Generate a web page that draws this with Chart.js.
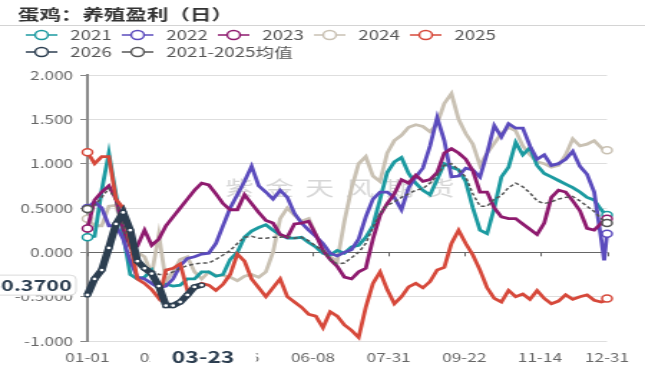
<!DOCTYPE html>
<html lang="zh">
<head>
<meta charset="UTF-8">
<title>蛋鸡：养殖盈利（日）</title>
<script src="https://cdn.jsdelivr.net/npm/chart.js"></script>
<style>
  html, body { margin: 0; padding: 0; background: #fff; }
  #chart { display: block; }
</style>
</head>
<body>
<!-- the source picture is stretched sideways, so the canvas is drawn narrow and widened by CSS -->
<canvas id="chart" width="450" height="369" style="width:645px;height:369px"></canvas>
<script>
// day of year (0 = 01-01), read every 5 days
const days = [0,5,10,15,20,25,30,35,40,45,50,55,60,65,70,75,80,85,90,95,
  100,105,110,115,120,125,130,135,140,145,150,155,160,165,170,175,180,185,190,195,
  200,205,210,215,220,225,230,235,240,245,250,255,260,265,270,275,280,285,290,295,
  300,305,310,315,320,325,330,335,340,345,350,355,360,362,364];

const s2021 = [0.17,0.18,0.7,1.12,0.65,0.2,-0.25,-0.3,-0.28,-0.2,-0.4,-0.36,-0.38,-0.37,-0.3,-0.3,-0.22,-0.22,-0.27,-0.25,
  -0.08,0.0,0.17,0.24,0.28,0.31,0.25,0.2,0.16,0.16,0.17,0.11,0.06,-0.01,-0.03,0.02,-0.01,0.06,0.08,0.17,
  0.3,0.6,0.9,1.02,1.07,0.89,0.78,0.7,0.65,0.82,1.0,0.96,0.93,0.8,0.5,0.25,0.21,0.5,0.85,0.96,
  1.24,1.1,1.18,0.98,0.89,0.85,0.81,0.77,0.73,0.68,0.62,0.59,0.48,0.44,0.42];

const s2022 = [0.5,0.57,0.5,0.3,0.3,0.15,-0.1,-0.28,-0.3,-0.35,-0.4,-0.38,-0.3,-0.15,-0.07,-0.05,-0.02,-0.01,0.1,0.3,
  0.5,0.65,0.8,0.97,0.75,0.68,0.6,0.7,0.62,0.44,0.33,0.25,0.18,0.1,-0.01,-0.04,0.0,0.03,0.15,0.4,
  0.6,0.68,0.68,0.62,0.48,0.73,0.85,0.95,1.2,1.52,1.26,0.85,0.86,0.95,0.93,0.85,1.12,1.43,1.3,1.45,
  1.4,1.4,1.2,1.05,1.1,0.98,1.0,1.05,1.14,0.97,0.88,0.68,0.14,-0.09,0.21];

const s2023 = [0.27,0.59,0.68,0.75,0.6,0.27,0.06,0.07,0.25,0.08,0.15,0.3,0.4,0.5,0.6,0.7,0.78,0.76,0.66,0.55,
  0.48,0.48,0.65,0.55,0.45,0.36,0.33,0.2,0.17,0.32,0.33,0.35,0.2,0.02,-0.08,-0.16,-0.28,-0.3,-0.22,-0.18,
  0.15,0.42,0.55,0.66,0.82,0.78,0.87,0.8,0.82,0.9,1.12,1.17,1.12,1.05,0.92,0.68,0.68,0.5,0.4,0.38,
  0.38,0.32,0.26,0.2,0.33,0.62,0.7,0.68,0.58,0.47,0.27,0.25,0.33,0.36,0.38];

const s2024 = [0.38,0.3,0.3,0.52,0.53,0.25,0.1,0.0,-0.05,-0.25,0.2,-0.33,-0.22,-0.08,-0.05,-0.22,-0.3,-0.22,-0.26,-0.26,
  -0.28,-0.32,-0.27,-0.25,-0.28,-0.22,0.0,0.38,0.5,0.42,0.35,0.38,0.2,0.05,-0.05,-0.1,0.35,0.72,1.0,1.08,
  0.86,0.8,1.12,1.26,1.32,1.41,1.44,1.42,1.36,1.45,1.68,1.79,1.5,1.34,1.22,0.98,1.12,1.23,1.34,1.41,
  1.37,1.2,1.1,1.02,1.0,0.96,0.98,1.1,1.28,1.2,1.22,1.26,1.18,1.15,1.15];

const s2025 = [1.13,1.0,1.08,1.08,0.6,0.5,0.1,-0.3,-0.35,-0.42,-0.52,-0.2,-0.18,-0.13,-0.43,-0.4,-0.35,-0.37,-0.43,-0.36,
  -0.25,-0.02,-0.1,-0.3,-0.4,-0.5,-0.4,-0.3,-0.5,-0.56,-0.62,-0.7,-0.72,-0.85,-0.67,-0.72,-0.82,-0.88,-0.96,-0.62,
  -0.35,-0.22,-0.42,-0.58,-0.5,-0.39,-0.35,-0.4,-0.33,-0.2,-0.17,0.1,0.25,0.1,-0.03,-0.2,-0.4,-0.52,-0.56,-0.43,
  -0.5,-0.47,-0.53,-0.43,-0.52,-0.58,-0.55,-0.48,-0.53,-0.5,-0.48,-0.54,-0.56,-0.55,-0.52];

// 2026 only runs to 03-23
const s2026 = [-0.48,-0.3,-0.2,0.05,0.32,0.45,0.25,-0.1,-0.18,-0.24,-0.38,-0.6,-0.6,-0.56,-0.48,-0.39,-0.37];

const sAvg = [0.49,0.53,0.62,0.72,0.58,0.3,0.05,-0.1,-0.15,-0.2,-0.25,-0.25,-0.22,-0.18,-0.15,-0.13,-0.12,-0.12,-0.08,-0.03,
  0.02,0.1,0.17,0.18,0.16,0.16,0.17,0.17,0.18,0.16,0.17,0.13,0.07,0.02,-0.08,-0.13,-0.12,-0.06,0.0,0.1,
  0.28,0.44,0.53,0.57,0.62,0.66,0.7,0.72,0.78,0.87,0.98,1.0,0.93,0.85,0.66,0.52,0.52,0.6,0.64,0.73,
  0.78,0.74,0.67,0.58,0.55,0.57,0.6,0.62,0.63,0.58,0.52,0.46,0.38,0.35,0.33];

const seriesNames = ['2021', '2022', '2023', '2024', '2025', '2026', '2021-2025均值'];
const xTicks = [0, 52, 105, 158, 211, 264, 317, 364];
const yTicks = [-1, -0.5, 0, 0.5, 1, 1.5, 2];
const yTickLabels = ['-1.000', '-0.5000', '0.000', '0.5000', '1.000', '1.500', '2.000'];
const pointerDay = 81;
const pointerValue = -0.37;
const pointerText = '-0.3700';

const colors = ['#1b9aa0', '#5b4bbd', '#8e1a6e', '#c9c1b3', '#d6483a', '#2c3e50', '#555555'];
const FONT = '"Noto Sans CJK SC", sans-serif';
Chart.defaults.font.family = FONT;

function dayLabel(d) {
  const dt = new Date(2025, 0, 1 + d);
  return String(dt.getMonth() + 1).padStart(2, '0') + '-' + String(dt.getDate()).padStart(2, '0');
}

function toPoints(values) {
  return values.map((v, i) => ({ x: days[i], y: v }));
}

// only first and last point get a hollow circle
function endsOnly(ctx) {
  const n = ctx.dataset.data.length;
  return ctx.dataIndex === 0 || ctx.dataIndex === n - 1 ? 3.5 : 0;
}

function lineSet(i, values, order, extra) {
  return Object.assign({
    label: seriesNames[i],
    data: toPoints(values),
    borderColor: colors[i],
    borderWidth: 2.8,
    pointRadius: endsOnly,
    pointHoverRadius: 0,
    pointBackgroundColor: '#fff',
    pointBorderColor: colors[i],
    pointBorderWidth: 1.5,
    tension: 0,
    clip: false,
    order: order
  }, extra || {});
}

const decor = {
  id: 'decor',
  beforeDatasetsDraw(chart) {
    const ctx = chart.ctx;
    const x = chart.scales.x, y = chart.scales.y;
    // watermark
    ctx.save();
    ctx.font = '20px ' + FONT;
    ctx.fillStyle = 'rgba(165,165,165,0.45)';
    ctx.textAlign = 'center';
    ctx.textBaseline = 'middle';
    ctx.letterSpacing = '8px';
    ctx.fillText('紫金天风期货', 241, 188);
    ctx.restore();
    // small ticks on the zero line
    ctx.save();
    ctx.strokeStyle = '#666';
    ctx.lineWidth = 1;
    const y0 = y.getPixelForValue(0);
    xTicks.forEach(d => {
      const px = Math.round(x.getPixelForValue(d)) + 0.5;
      ctx.beginPath();
      ctx.moveTo(px, y0);
      ctx.lineTo(px, y0 + 4);
      ctx.stroke();
    });
    ctx.restore();
  },
  afterDraw(chart) {
    const ctx = chart.ctx;
    const x = chart.scales.x, y = chart.scales.y;
    ctx.save();
    // title + rule under it
    ctx.font = 'bold 15px ' + FONT;
    ctx.fillStyle = '#333';
    ctx.textBaseline = 'middle';
    ctx.fillText('蛋鸡：养殖盈利（日）', 12.5, 14);
    ctx.strokeStyle = '#d4d4d4';
    ctx.lineWidth = 1;
    ctx.beginPath();
    ctx.moveTo(0, 25.5);
    ctx.lineTo(chart.width, 25.5);
    ctx.stroke();

    // legend, two rows
    ctx.font = '13px ' + FONT;
    seriesNames.forEach((name, i) => {
      const row = i < 5 ? 0 : 1;
      const col = i < 5 ? i : i - 5;
      const cx = 29 + col * 67;
      const cy = row ? 52 : 35;
      ctx.strokeStyle = colors[i];
      ctx.lineWidth = 1.5;
      ctx.beginPath();
      ctx.moveTo(cx - 11, cy);
      ctx.lineTo(cx + 11, cy);
      ctx.stroke();
      ctx.beginPath();
      ctx.arc(cx, cy, 4.5, 0, Math.PI * 2);
      ctx.fillStyle = '#fff';
      ctx.fill();
      ctx.stroke();
      ctx.fillStyle = '#555';
      ctx.textAlign = 'left';
      ctx.fillText(name, cx + 20, cy);
    });

    // axis pointer labels
    const py = y.getPixelForValue(pointerValue);
    ctx.fillStyle = '#fff';
    ctx.strokeStyle = '#dadada';
    ctx.lineWidth = 1;
    ctx.beginPath();
    ctx.roundRect(-6, py - 10, 59, 20, 4);
    ctx.fill();
    ctx.stroke();
    ctx.font = 'bold 15px ' + FONT;
    ctx.fillStyle = '#2c3e50';
    ctx.textAlign = 'right';
    ctx.fillText(pointerText, 50, py);

    const px = x.getPixelForValue(pointerDay);
    ctx.fillStyle = '#fff';
    ctx.fillRect(px - 37, 346, 74, 22);
    ctx.font = 'bold 16px ' + FONT;
    ctx.fillStyle = '#2c3e50';
    ctx.textAlign = 'center';
    ctx.fillText(dayLabel(pointerDay), px, 357);
    ctx.restore();
  }
};

new Chart(document.getElementById('chart'), {
  type: 'line',
  data: {
    datasets: [
      lineSet(0, s2021, 5),
      lineSet(1, s2022, 4),
      lineSet(2, s2023, 3),
      lineSet(3, s2024, 6),
      lineSet(4, s2025, 1),
      lineSet(5, s2026, 0, { borderWidth: 5.5, pointRadius: 2, pointBorderWidth: 1.2 }),
      lineSet(6, sAvg, 2, { borderWidth: 1.5, borderDash: [3, 2] })
    ]
  },
  options: {
    responsive: false,
    devicePixelRatio: 1,
    animation: false,
    layout: { padding: { top: 75, right: 26.5, bottom: 0, left: 0 } },
    plugins: {
      legend: { display: false },
      tooltip: { enabled: false },
      title: { display: false }
    },
    scales: {
      x: {
        type: 'linear',
        min: 0,
        max: 364,
        afterBuildTicks: s => { s.ticks = xTicks.map(v => ({ value: v })); },
        afterFit: s => { s.height = 28; },
        ticks: {
          callback: v => dayLabel(v),
          color: '#666',
          font: { size: 12 },
          padding: 9,
          maxRotation: 0,
          autoSkip: false
        },
        grid: { display: false, drawTicks: false },
        border: { display: false }
      },
      y: {
        min: -1,
        max: 2,
        afterBuildTicks: s => { s.ticks = yTicks.map(v => ({ value: v })); },
        afterFit: s => { s.width = 61; },
        ticks: {
          callback: v => yTickLabels[yTicks.indexOf(v)],
          color: '#666',
          font: { size: 12 },
          padding: 5
        },
        grid: {
          color: c => (c.tick && c.tick.value === 0 ? '#666' : '#dedede'),
          tickColor: '#888',
          tickLength: 5
        },
        border: { display: true, color: '#8a8a8a', width: 2 }
      }
    }
  },
  plugins: [decor]
});
</script>
</body>
</html>
